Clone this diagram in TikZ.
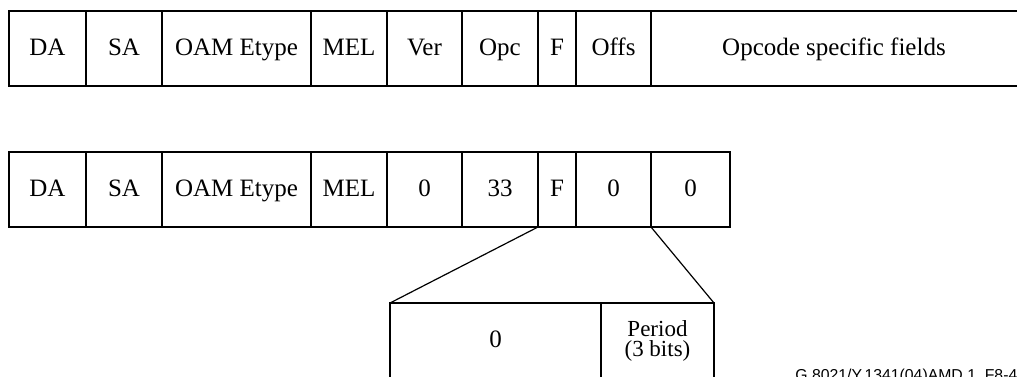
\documentclass[tikz,border=0pt]{standalone}
\usepackage{fontspec}
\setmainfont{Liberation Serif}
\setsansfont{Liberation Sans}
\usetikzlibrary{positioning}
\tikzset{field/.style={draw,line width=1.3pt,minimum height=37.5pt,inner sep=0pt,outer sep=0pt,text height=8.5pt,text depth=2pt,font=\fontsize{12.5}{14}\selectfont},
  zoomline/.style={line width=0.6pt}}

\begin{document}
\begin{tikzpicture}[x=0.5pt,y=-0.5pt]
%[scale=0.7, every node/.style={scale=0.7}]
\useasboundingbox (0,0) rectangle (1017,376);
\clip (0,0) rectangle (1017,376);

% frame format
\node (da) at (9,11) [field,anchor=north west,minimum width=38.5pt] {DA};
\node (sa) [field,right=0pt of da,minimum width=38pt] {SA};
\node (etype) [field,right=0pt of sa,minimum width=74.5pt] {OAM Etype};
\node (mel) [field,right=0pt of etype,minimum width=38pt] {MEL};
\node (ver) [field,right=0pt of mel,minimum width=37.5pt] {Ver};
\node (opc) [field,right=0pt of ver,minimum width=38pt] {Opc};
\node (flags) [field,right=0pt of opc,minimum width=19pt] {F};
\node (offs) [field,right=0pt of flags,minimum width=37.5pt] {Offs};
\node (tlv) [field,right=0pt of offs,minimum width=200pt] {\hspace*{-17pt}Opcode specific fields};

% with values
\node (da2) at (9,152) [field,anchor=north west,minimum width=38.5pt] {DA};
\node (sa2) [field,right=0pt of da2,minimum width=38pt] {SA};
\node (etype2) [field,right=0pt of sa2,minimum width=74.5pt] {OAM Etype};
\node (mel2) [field,right=0pt of etype2,minimum width=38pt] {MEL};
\node (ver2) [field,right=0pt of mel2,minimum width=37.5pt] {0};
\node (opc2) [field,right=0pt of ver2,minimum width=38pt] {33};
\node (flags2) [field,right=0pt of opc2,minimum width=19pt] {F};
\node (offs2) [field,right=0pt of flags2,minimum width=37.5pt] {0};
\node (end2) [field,right=0pt of offs2,minimum width=39.5pt] {0};

% flags field
\node (zero) at (390,303) [field,anchor=north west,minimum width=105.5pt] {0};
\node (period) [field,right=0pt of zero,minimum width=56.5pt,text height=,text depth=,align=center,font=\fontsize{11.5}{10}\selectfont] {Period\\(3 bits)};
\draw[zoomline] (flags2.south west) -- (zero.north west);
\draw[zoomline] (end2.south west) -- (period.north east);

\node (fig) at (795,380) [anchor=base west,inner sep=0pt,font=\sffamily\fontsize{7.9}{9}\selectfont] {G.8021/Y.1341(04)AMD.1\_F8-4};

\end{tikzpicture}
\end{document}
